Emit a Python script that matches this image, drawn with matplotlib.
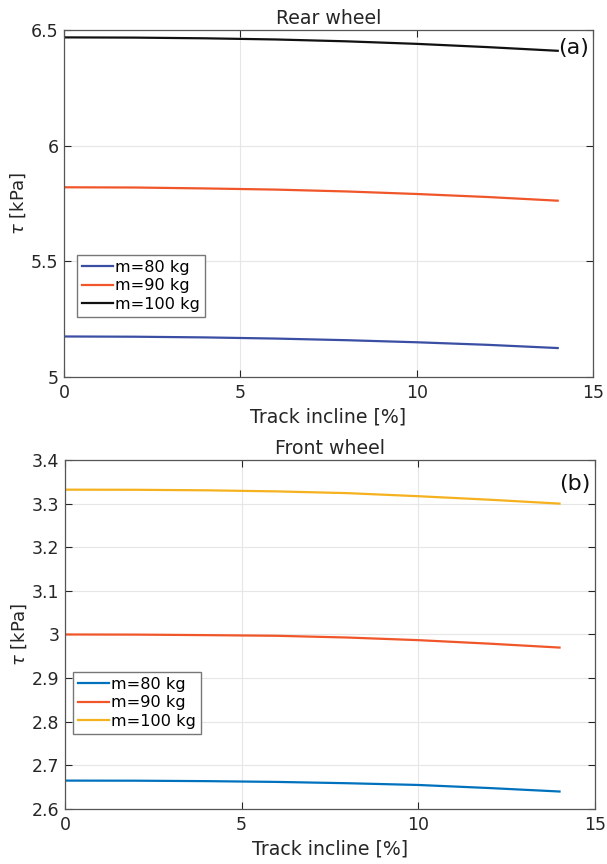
import numpy as np
import matplotlib.pyplot as plt

incline = [0, 2, 4, 6, 8, 10, 12, 14]

rear_80 = [5.175, 5.174, 5.171, 5.166, 5.159, 5.150, 5.139, 5.125]
rear_90 = [5.820, 5.819, 5.815, 5.810, 5.802, 5.791, 5.778, 5.762]
rear_100 = [6.468, 6.467, 6.464, 6.459, 6.451, 6.440, 6.426, 6.410]

front_80 = [2.665, 2.6648, 2.6638, 2.662, 2.659, 2.655, 2.648, 2.640]
front_90 = [3.000, 2.9997, 2.9985, 2.997, 2.993, 2.987, 2.979, 2.970]
front_100 = [3.332, 3.3317, 3.3305, 3.328, 3.324, 3.317, 3.309, 3.300]

labels = ['m=80 kg', 'm=90 kg', 'm=100 kg']

plt.rcParams['font.family'] = 'DejaVu Sans'
fig = plt.figure(figsize=(6.07, 8.64), dpi=100)

ax1 = fig.add_axes([0.1054, 0.5637, 0.8715, 0.4016])
ax2 = fig.add_axes([0.107, 0.0637, 0.873, 0.4039])


def style(ax, ylim, yticks, yticklabels):
    ax.set_xlim(0, 15)
    ax.set_ylim(*ylim)
    ax.set_xticks([0, 5, 10, 15])
    ax.set_yticks(yticks)
    ax.set_yticklabels(yticklabels)
    ax.grid(True, color='#e6e6e6', linewidth=0.8)
    ax.set_axisbelow(True)
    ax.tick_params(direction='in', top=True, right=True, labelsize=12.5,
                   colors='#262626', length=5, width=0.8, pad=4)
    ax.tick_params(axis='x', pad=5)
    for s in ax.spines.values():
        s.set_color('#555555')
        s.set_linewidth(0.9)
    ax.set_xlabel('Track incline [%]', fontsize=13.6, color='#262626', labelpad=4)
    ax.set_ylabel(r'$\tau$ [kPa]', fontsize=13, color='#262626', labelpad=2)


def legend(ax, anchor):
    ax.legend(loc='upper left', bbox_to_anchor=anchor, fontsize=11.6,
              frameon=True, fancybox=False, edgecolor='#777777', framealpha=1,
              handlelength=1.95, handletextpad=0.12, borderpad=0.3,
              labelspacing=0.22, borderaxespad=0)


ax1.plot(incline, rear_80, color='#3a4ea3', lw=1.6, label=labels[0])
ax1.plot(incline, rear_90, color='#f0562a', lw=1.6, label=labels[1])
ax1.plot(incline, rear_100, color='#111111', lw=1.6, label=labels[2])
style(ax1, (5, 6.5), [5, 5.5, 6, 6.5], ['5', '5.5', '6', '6.5'])
ax1.set_title('Rear wheel', fontsize=13.6, color='#262626', pad=4)
ax1.text(14.0, 6.422, '(a)', fontsize=16, ha='left', va='center', color='#111111')
legend(ax1, (0.025, 0.352))

ax2.plot(incline, front_80, color='#0072bd', lw=1.6, label=labels[0])
ax2.plot(incline, front_90, color='#f0562a', lw=1.6, label=labels[1])
ax2.plot(incline, front_100, color='#f5b21e', lw=1.6, label=labels[2])
style(ax2, (2.6, 3.4), [2.6, 2.7, 2.8, 2.9, 3.0, 3.1, 3.2, 3.3, 3.4],
      ['2.6', '2.7', '2.8', '2.9', '3', '3.1', '3.2', '3.3', '3.4'])
ax2.set_title('Front wheel', fontsize=13.6, color='#262626', pad=4)
ax2.text(14.87, 3.345, '(b)', fontsize=16, ha='right', va='center', color='#111111')
legend(ax2, (0.015, 0.393))

fig.savefig('out.png', dpi=100)
